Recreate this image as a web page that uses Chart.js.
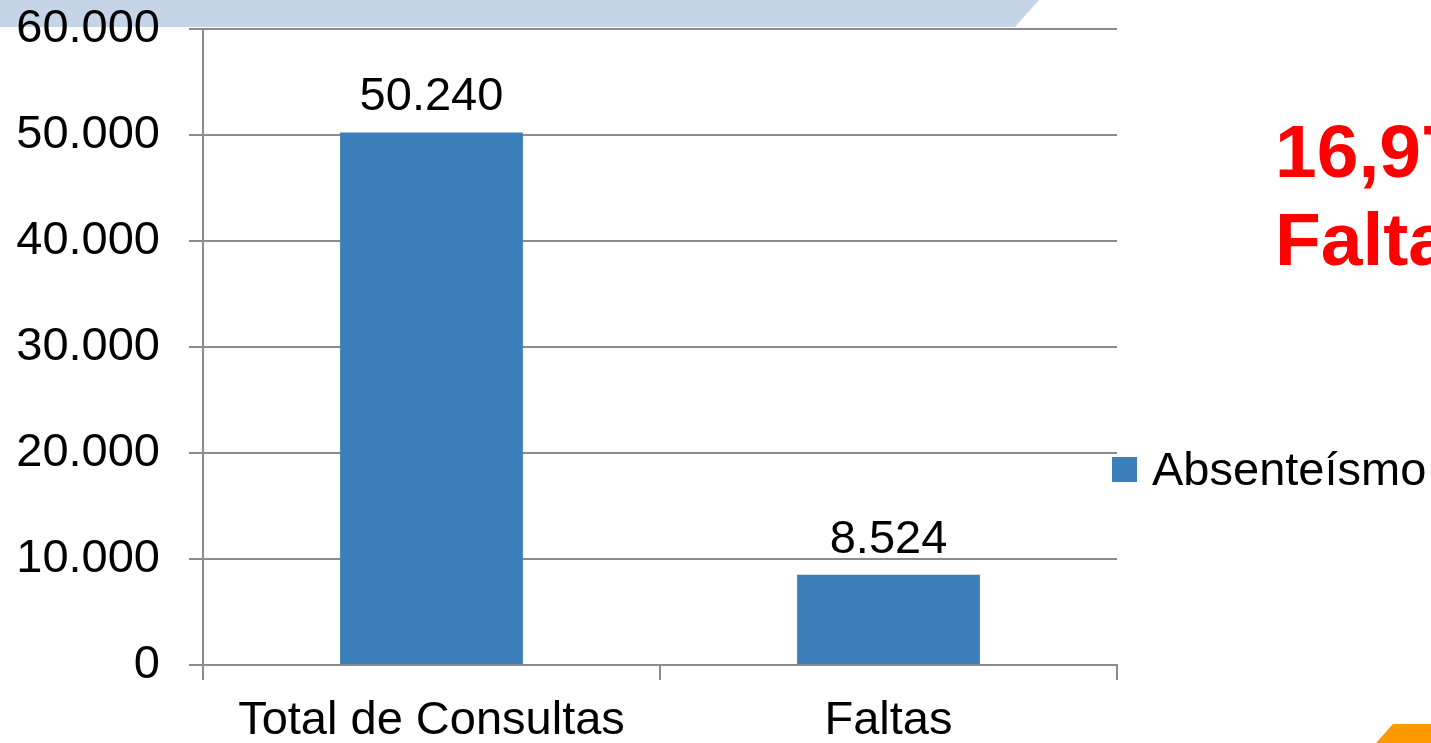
<!DOCTYPE html>
<html>
<head>
<meta charset="utf-8">
<script src="https://cdn.jsdelivr.net/npm/chart.js@4"></script>
<style>
html,body{margin:0;padding:0;background:#fff;overflow:hidden;}
canvas{display:block;}
</style>
</head>
<body>
<canvas id="c" width="1431" height="743"></canvas>
<script>
const categories = ["Total de Consultas", "Faltas"];
const seriesLabel = "Absenteísmo";
const seriesValues = [50240, 8524];
const yTicks = [0, 10000, 20000, 30000, 40000, 50000, 60000];

const FONT = "'Liberation Sans', Arial, sans-serif";
const GRID = "#8c8c8c";
const BAR = "#3b80ba";

function fmt(v) {
  return String(Math.round(v)).replace(/\B(?=(\d{3})+(?!\d))/g, ".");
}

const decor = {
  id: "decor",
  beforeDraw(chart) {
    const ctx = chart.ctx;
    ctx.save();
    ctx.fillStyle = "#fff";
    ctx.fillRect(0, 0, chart.width, chart.height);
    // top banner
    ctx.fillStyle = "#c6d4e7";
    ctx.beginPath();
    ctx.moveTo(0, 0);
    ctx.lineTo(1039, 0);
    ctx.lineTo(1015, 27);
    ctx.lineTo(0, 27);
    ctx.closePath();
    ctx.fill();
    // orange corner shape
    ctx.fillStyle = "#ff9900";
    ctx.beginPath();
    ctx.moveTo(1393, 724);
    ctx.lineTo(1431, 724);
    ctx.lineTo(1431, 743);
    ctx.lineTo(1376, 743);
    ctx.closePath();
    ctx.fill();
    ctx.restore();
  },
  afterDatasetsDraw(chart) {
    const ctx = chart.ctx;
    const meta = chart.getDatasetMeta(0);
    ctx.save();
    ctx.font = "47px " + FONT;
    ctx.fillStyle = "#000";
    ctx.textAlign = "center";
    ctx.textBaseline = "alphabetic";
    meta.data.forEach((bar, i) => {
      ctx.fillText(fmt(seriesValues[i]), bar.x, bar.y - 22);
    });
    ctx.restore();
  },
  afterDraw(chart) {
    const ctx = chart.ctx;
    ctx.save();
    // legend
    const ds = chart.data.datasets[0];
    ctx.fillStyle = ds.backgroundColor;
    ctx.fillRect(1112, 457, 25, 25);
    ctx.fillStyle = "#000";
    ctx.font = "47px " + FONT;
    ctx.textAlign = "left";
    ctx.textBaseline = "alphabetic";
    ctx.fillText(ds.label, 1152, 485);
    // red annotation
    const pct = (seriesValues[1] / seriesValues[0] * 100).toFixed(2).replace(".", ",");
    ctx.fillStyle = "#ff0000";
    ctx.font = "bold 75px " + FONT;
    ctx.fillText(pct + "%", 1275, 177);
    ctx.fillText("Faltas", 1275, 265);
    ctx.restore();
  }
};

new Chart(document.getElementById("c"), {
  type: "bar",
  data: {
    labels: categories,
    datasets: [{
      label: seriesLabel,
      data: seriesValues,
      backgroundColor: BAR,
      borderWidth: 0,
      barPercentage: 0.4,
      categoryPercentage: 1.0
    }]
  },
  options: {
    responsive: false,
    animation: false,
    devicePixelRatio: 1,
    layout: { padding: { top: 29, right: 314, left: 0, bottom: 0 } },
    plugins: {
      legend: { display: false },
      tooltip: { enabled: false }
    },
    scales: {
      x: {
        offset: true,
        grid: {
          offset: true,
          drawOnChartArea: false,
          drawTicks: true,
          tickLength: 15,
          color: GRID,
          lineWidth: 2
        },
        border: { color: GRID, width: 2 },
        ticks: {
          font: { family: FONT, size: 47 },
          color: "#000",
          padding: 13,
          maxRotation: 0,
          autoSkip: false
        },
        afterFit(scale) {
          scale.height = 78;
          scale.paddingLeft = 0; scale.paddingRight = 0;
        }
      },
      y: {
        min: 0,
        max: 60000,
        afterBuildTicks(scale) { scale.ticks = yTicks.map(v => ({ value: v })); },
        grid: {
          drawTicks: true,
          tickLength: 14,
          color: GRID,
          lineWidth: 2
        },
        border: { color: GRID, width: 2 },
        ticks: {
          font: { family: FONT, size: 47 },
          color: "#000",
          padding: 29,
          callback: (v) => fmt(v)
        },
        afterFit(scale) {
          scale.width = 203;
          scale.paddingTop = 0; scale.paddingBottom = 0;
        }
      }
    }
  },
  plugins: [decor]
});
</script>
</body>
</html>
